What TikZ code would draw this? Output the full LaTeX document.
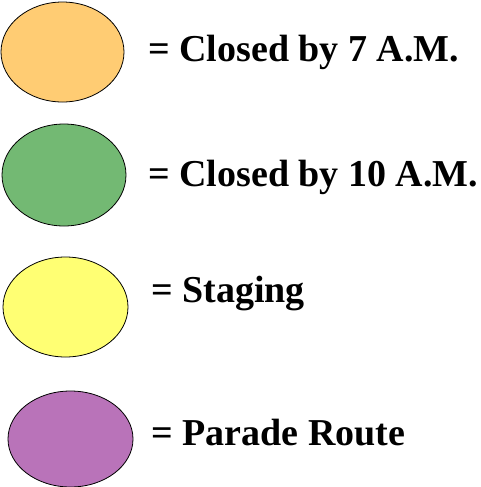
\documentclass[tikz,border=0pt]{standalone}
\usepackage{fontspec}
\setmainfont{Liberation Serif}
\definecolor{legorange}{RGB}{255,204,115}
\definecolor{leggreen}{RGB}{115,185,115}
\definecolor{legyellow}{RGB}{255,255,115}
\definecolor{legpurple}{RGB}{185,115,185}
\begin{document}
\begin{tikzpicture}[x=0.75pt,y=-0.75pt,
    keylabel/.style={anchor=base west, inner sep=0pt, font=\fontsize{28.5}{30}\selectfont\bfseries}]
    \useasboundingbox (0,0) rectangle (481,487);
    \clip (0,0) rectangle (481,487);
    
    % Closed by 7 A.M.
    \draw[line width=0.6pt, fill=legorange] (62.5,52) ellipse (61.5 and 50);
    \node[keylabel] (seven) at (148,61) {= Closed by 7 A.M.};
    
    % Closed by 10 A.M.
    \draw[line width=0.6pt, fill=leggreen] (64,175) ellipse (62 and 51);
    \node[keylabel] (ten) at (148,186) {= Closed by 10 A.M.};
    
    % Staging
    \draw[line width=0.6pt, fill=legyellow] (65.5,307) ellipse (62.5 and 50);
    \node[keylabel] (staging) at (151,302) {= Staging};
    
    % Parade route
    \draw[line width=0.6pt, fill=legpurple] (70.5,439) ellipse (62.5 and 48);
    \node[keylabel] (parade) at (151,445) {= Parade Route};
\end{tikzpicture}
\end{document}
